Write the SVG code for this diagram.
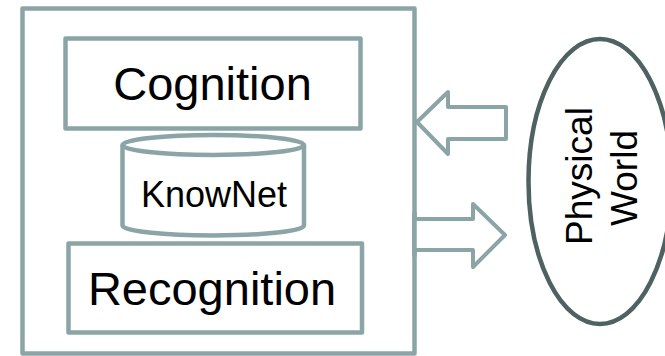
<svg xmlns="http://www.w3.org/2000/svg" width="665" height="356" viewBox="0 0 665 356">
<style>
.box{fill:#fff;stroke:#8ba5a7;stroke-width:4.5;stroke-linejoin:round}
.arr{fill:#fff;stroke:#8ba5a7;stroke-width:4;stroke-linejoin:round}
.t{font-family:"Liberation Sans",Arial,sans-serif;fill:#000;text-anchor:middle}
</style>
<rect width="665" height="356" fill="#fff"/>
<g id="system"><rect class="box" x="22.5" y="8.5" width="392" height="345"/></g>
<g id="cognition"><rect class="box" x="65.5" y="38.5" width="295" height="90"/><text class="t" x="212.5" y="100" font-size="47">Cognition</text></g>
<g id="recognition"><rect class="box" x="68.5" y="243.5" width="293.5" height="89"/><text class="t" x="212" y="305" font-size="47">Recognition</text></g>
<g id="knownet">
<path class="box" d="M122.5,145 A90.75,10 0 0 1 304,145 L304,225.5 A90.75,10 0 0 1 122.5,225.5 Z"/>
<path class="box" d="M122.5,145 A90.75,10 0 0 0 304,145" fill="none"/>
<text class="t" x="214" y="207" font-size="36">KnowNet</text>
</g>
<g id="connectors">
<polygon class="arr" points="417,122 448,92 448,107 506,107 506,139 448,139 448,154"/>
<polygon class="arr" points="414,219 473,219 473,204 505,235 473,267 473,250 414,250"/>
<line x1="414.5" y1="212" x2="414.5" y2="257" stroke="#8ba5a7" stroke-width="4.5"/>
</g>
<g id="physical-world">
<ellipse cx="600" cy="181.5" rx="71.5" ry="142.5" fill="#fff" stroke="#4f6262" stroke-width="4.5"/>
<text class="t" font-size="37" transform="translate(592,176) rotate(-90)">Physical</text>
<text class="t" font-size="37" transform="translate(637,178) rotate(-90)">World</text>
</g>
</svg>
